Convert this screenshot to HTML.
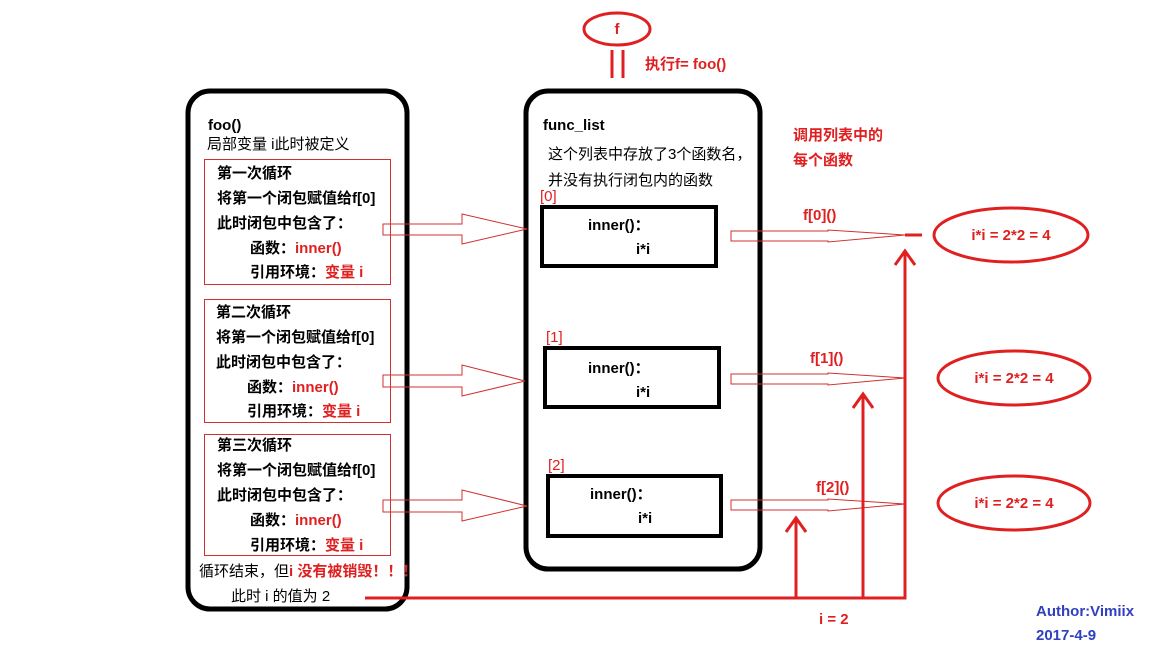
<!DOCTYPE html>
<html><head><meta charset="utf-8"><style>
body{margin:0;background:#fff}
svg text{font-family:"Liberation Sans","Noto Sans CJK SC",sans-serif;font-size:15px}
.b{font-weight:bold}
.r{fill:#e02020}
</style></head><body>
<svg width="1152" height="648" xmlns="http://www.w3.org/2000/svg">
<g fill="none" stroke="#000">
<rect x="188" y="91" width="219" height="518" rx="22" stroke-width="5"/>
<rect x="526" y="91" width="234" height="478" rx="22" stroke-width="5"/>
<rect x="542" y="207" width="174" height="59" stroke-width="4"/>
<rect x="545" y="348" width="174" height="59" stroke-width="4"/>
<rect x="548" y="476" width="173" height="60" stroke-width="4"/>
</g>
<g fill="none" stroke="#d03030" stroke-width="1">
<rect x="204.5" y="159.5" width="186" height="125"/>
<rect x="204.5" y="299.5" width="186" height="123"/>
<rect x="204.5" y="434.5" width="186" height="121"/>
<polygon points="383,224 462,224 462,214 527,229 462,244 462,235 383,235"/>
<polygon points="383,375 462,375 462,365 525,381 462,396 462,387 383,387"/>
<polygon points="383,500 462,500 462,490 527,506 462,521 462,512 383,512"/>
<polygon points="731,231 828,231 828,230 905,235 828,242 828,241 731,241"/>
<polygon points="731,374 828,374 828,373 905,378 828,385 828,384 731,384"/>
<polygon points="731,500 828,500 828,499 905,504 828,511 828,510 731,510"/>
</g>
<g fill="none" stroke="#e02020" stroke-width="3">
<ellipse cx="617" cy="29" rx="33" ry="16"/>
<line x1="612" y1="50" x2="612" y2="78"/><line x1="623" y1="50" x2="623" y2="78"/>
<ellipse cx="1011" cy="235" rx="77" ry="27"/>
<ellipse cx="1014" cy="378" rx="76" ry="27"/>
<ellipse cx="1014" cy="503" rx="76" ry="27"/>
<polyline points="365,598 905,598 905,252"/>
<polyline points="895,265 905,251 915,265"/>
<line x1="863" y1="598" x2="863" y2="395"/><polyline points="853,408 863,394 873,408"/>
<line x1="796" y1="598" x2="796" y2="519"/><polyline points="786,532 796,518 806,532"/>
<line x1="905" y1="235" x2="922" y2="235"/>
</g>
<text x="617" y="34" class="b r" text-anchor="middle">f</text>
<text x="645" y="69" class="b r">执行f= foo()</text>
<text x="208" y="130" class="b">foo()</text>
<text x="207" y="149">局部变量 i此时被定义</text>
<g class="b">
<text x="217" y="178">第一次循环</text><text x="217" y="203">将第一个闭包赋值给f[0]</text><text x="217" y="228">此时闭包中包含了：</text>
<text x="250" y="253">函数：<tspan class="r">inner()</tspan></text><text x="250" y="277">引用环境：<tspan class="r">变量 i</tspan></text>
<text x="216" y="317">第二次循环</text><text x="216" y="342">将第一个闭包赋值给f[0]</text><text x="216" y="367">此时闭包中包含了：</text>
<text x="247" y="392">函数：<tspan class="r">inner()</tspan></text><text x="247" y="416">引用环境：<tspan class="r">变量 i</tspan></text>
<text x="217" y="450">第三次循环</text><text x="217" y="475">将第一个闭包赋值给f[0]</text><text x="217" y="500">此时闭包中包含了：</text>
<text x="250" y="525">函数：<tspan class="r">inner()</tspan></text><text x="250" y="550">引用环境：<tspan class="r">变量 i</tspan></text>
</g>
<text x="199" y="576">循环结束，但<tspan class="b r">i 没有被销毁！！！</tspan></text>
<text x="231" y="601">此时 i 的值为 2</text>
<text x="543" y="130" class="b">func_list</text>
<text x="548" y="159">这个列表中存放了3个函数名，</text>
<text x="548" y="185">并没有执行闭包内的函数</text>
<text x="540" y="201" class="r">[0]</text><text x="546" y="342" class="r">[1]</text><text x="548" y="470" class="r">[2]</text>
<g class="b">
<text x="588" y="230">inner()：</text><text x="636" y="254">i*i</text>
<text x="588" y="373">inner()：</text><text x="636" y="397">i*i</text>
<text x="590" y="499">inner()：</text><text x="638" y="523">i*i</text>
</g>
<g class="b r">
<text x="793" y="140">调用列表中的</text><text x="793" y="165">每个函数</text>
<text x="803" y="220">f[0]()</text><text x="810" y="363">f[1]()</text><text x="816" y="492">f[2]()</text>
<text x="1011" y="240" text-anchor="middle">i*i = 2*2 = 4</text>
<text x="1014" y="383" text-anchor="middle">i*i = 2*2 = 4</text>
<text x="1014" y="508" text-anchor="middle">i*i = 2*2 = 4</text>
<text x="819" y="624">i = 2</text>
</g>
<g class="b" fill="#3040c0"><text x="1036" y="616">Author:Vimiix</text><text x="1036" y="640">2017-4-9</text></g>
</svg>
</body></html>
